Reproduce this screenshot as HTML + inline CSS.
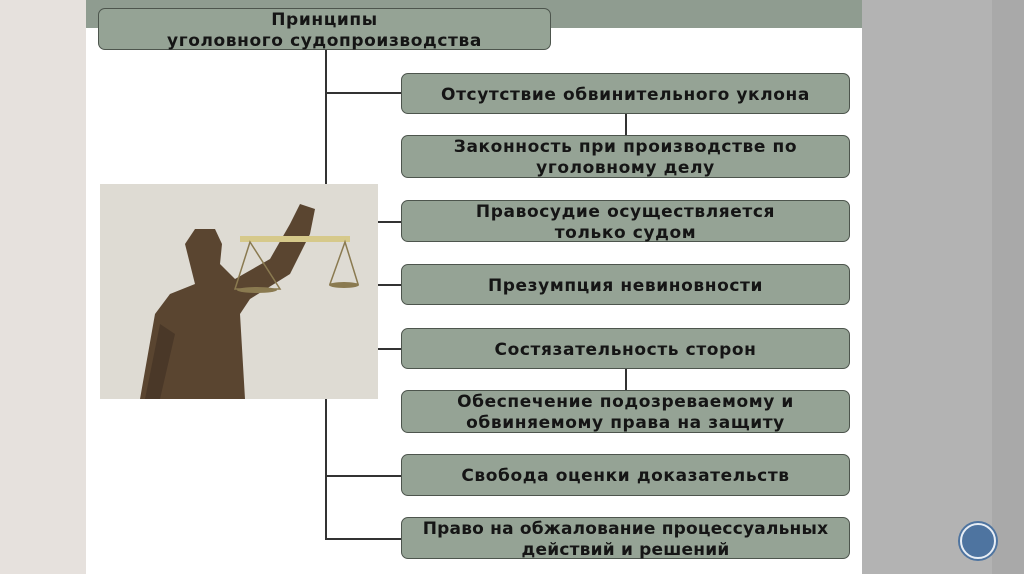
<!DOCTYPE html>
<html><head><meta charset="utf-8"><style>
body{margin:0;width:1024px;height:574px;position:relative;overflow:hidden;background:#fff;font-family:"DejaVu Sans","Liberation Sans",sans-serif}
.l{position:absolute;left:0;top:0;width:86px;height:574px;background:#e6e1dd}
.tb{position:absolute;left:86px;top:0;width:776px;height:28px;background:#8f9c90}
.r{position:absolute;left:862px;top:0;width:162px;height:574px;background:#b3b3b3}
.r2{position:absolute;left:992px;top:0;width:32px;height:574px;background:#a9a9a9}
.b{position:absolute;background:#95a395;border:1.5px solid #4d554d;border-radius:7px;box-sizing:border-box;display:flex;align-items:center;justify-content:center;text-align:center;font-weight:bold;font-size:17px;letter-spacing:0.6px;line-height:21px;color:#151515;white-space:nowrap;padding-top:3px}
.h{position:absolute;background:#333}
</style></head><body>
<div class="l"></div><div class="tb"></div><div class="r"></div><div class="r2"></div>
<div class="h" style="left:325px;top:50px;width:2px;height:490px"></div>
<div class="h" style="left:325px;top:92px;width:77px;height:2px"></div>
<div class="h" style="left:325px;top:475px;width:77px;height:2px"></div>
<div class="h" style="left:325px;top:538px;width:77px;height:2px"></div>
<div class="h" style="left:378px;top:221px;width:24px;height:2px"></div>
<div class="h" style="left:378px;top:284px;width:24px;height:2px"></div>
<div class="h" style="left:378px;top:348px;width:24px;height:2px"></div>
<div class="h" style="left:625px;top:113px;width:2px;height:23px"></div>
<div class="h" style="left:625px;top:369px;width:2px;height:22px"></div>
<div class="b" style="left:98px;top:8px;width:453px;height:42px">Принципы<br>уголовного судопроизводства</div>
<div class="b" style="left:401px;top:73px;width:449px;height:41px">Отсутствие обвинительного уклона</div>
<div class="b" style="left:401px;top:135px;width:449px;height:43px">Законность при производстве по<br>уголовному делу</div>
<div class="b" style="left:401px;top:200px;width:449px;height:42px">Правосудие осуществляется<br>только судом</div>
<div class="b" style="left:401px;top:264px;width:449px;height:41px">Презумпция невиновности</div>
<div class="b" style="left:401px;top:328px;width:449px;height:41px">Состязательность сторон</div>
<div class="b" style="left:401px;top:390px;width:449px;height:43px">Обеспечение подозреваемому и<br>обвиняемому права на защиту</div>
<div class="b" style="left:401px;top:454px;width:449px;height:42px">Свобода оценки доказательств</div>
<div class="b" style="left:401px;top:517px;width:449px;height:42px;letter-spacing:0.2px">Право на обжалование процессуальных<br>действий и решений</div>
<svg style="position:absolute;left:100px;top:184px" width="278" height="215" viewBox="0 0 278 215">
<rect width="278" height="215" fill="#dedbd3"/>
<path d="M40 215 L55 130 L70 110 L95 100 L90 80 L85 60 L95 45 L115 45 L122 60 L120 80 L135 95 L170 75 L190 40 L200 20 L215 25 L210 50 L190 90 L150 115 L140 130 L145 215 Z" fill="#5a4530"/>
<path d="M75 150 L60 215 L45 215 L60 140 Z" fill="#4a3828"/>
<rect x="140" y="52" width="110" height="6" fill="#d6c98a"/>
<path d="M150 58 L135 105 L180 105 Z" fill="none" stroke="#8a7a50" stroke-width="1.5"/>
<path d="M245 58 L230 100 L258 100 Z" fill="none" stroke="#8a7a50" stroke-width="1.5"/>
<ellipse cx="157" cy="106" rx="20" ry="3" fill="#8a7a50"/>
<ellipse cx="244" cy="101" rx="15" ry="3" fill="#8a7a50"/>
</svg>
<div style="position:absolute;left:960px;top:523px;width:36px;height:36px;border-radius:50%;background:#4e74a0;box-sizing:border-box;border:2px solid #e8eef5;box-shadow:0 0 0 2px #4e74a0"></div>
</body></html>
